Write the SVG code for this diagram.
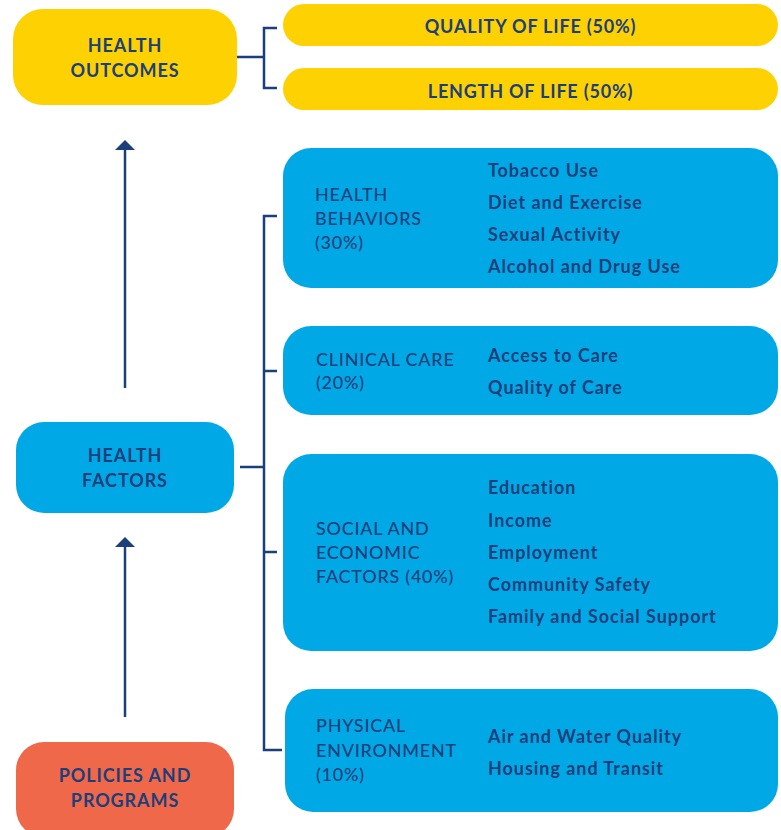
<svg xmlns="http://www.w3.org/2000/svg" width="781" height="830" viewBox="0 0 781 830">
<defs>
<style>
.y{fill:#FED103}
.b{fill:#00A9E6}
.o{fill:#F0684A}
text{fill:#1B3F7B;font-family:Lato,"Liberation Sans",sans-serif}
.h{font-size:18px;font-weight:700;text-anchor:middle;letter-spacing:0.9px}
.p{font-size:18px;font-weight:700;text-anchor:middle;letter-spacing:0.8px}
.c{font-size:18px;font-weight:500;letter-spacing:0.75px}
.i{font-size:18px;font-weight:700;letter-spacing:0.95px}
.ln{fill:none;stroke:#1B3F7B;stroke-width:2.5}
</style>
</defs>
<rect width="781" height="830" fill="#fff"/>
<g id="connectors">
<path class="ln" d="M237,57 H264 M277,28 H264 V88 H277"/>
<path class="ln" d="M240,467 H264 M277,216 H264 V750 H282 M264,371 H277 M264,552 H277"/>
<path d="M125,388 V150" class="ln"/>
<path d="M115,150 L125,140 L135,150 Z" fill="#1B3F7B"/>
<path d="M125,717 V547" class="ln"/>
<path d="M115,547 L125,537 L135,547 Z" fill="#1B3F7B"/>
</g>
<g id="health-outcomes">
<rect class="y" x="13" y="9" width="224" height="96" rx="30"/>
<text class="h" x="125" y="52">HEALTH</text>
<text class="h" x="125" y="77">OUTCOMES</text>
</g>
<g id="quality-of-life">
<rect class="y" x="283" y="4" width="495" height="42" rx="21"/>
<text class="p" x="530.5" y="33">QUALITY OF LIFE (50%)</text>
</g>
<g id="length-of-life">
<rect class="y" x="283" y="68" width="495" height="42" rx="21"/>
<text class="p" x="530.5" y="98">LENGTH OF LIFE (50%)</text>
</g>
<g id="health-factors">
<rect class="b" x="16" y="422" width="218" height="91" rx="28"/>
<text class="h" x="125" y="462">HEALTH</text>
<text class="h" x="125" y="487">FACTORS</text>
</g>
<g id="policies-and-programs">
<rect class="o" x="16" y="742" width="218" height="95" rx="28"/>
<text class="h" x="125" y="782">POLICIES AND</text>
<text class="h" x="125" y="807">PROGRAMS</text>
</g>
<g id="health-behaviors">
<rect class="b" x="283" y="148" width="495" height="140" rx="28"/>
<text class="c" x="315" y="201">HEALTH</text>
<text class="c" x="315" y="225">BEHAVIORS</text>
<text class="c" x="315" y="249">(30%)</text>
<text class="i" x="488" y="177">Tobacco Use</text>
<text class="i" x="488" y="209">Diet and Exercise</text>
<text class="i" x="488" y="241">Sexual Activity</text>
<text class="i" x="488" y="273">Alcohol and Drug Use</text>
</g>
<g id="clinical-care">
<rect class="b" x="283" y="326" width="495" height="89" rx="28"/>
<text class="c" x="316" y="366">CLINICAL CARE</text>
<text class="c" x="316" y="389">(20%)</text>
<text class="i" x="488" y="362">Access to Care</text>
<text class="i" x="488" y="394">Quality of Care</text>
</g>
<g id="social-economic">
<rect class="b" x="283" y="454" width="495" height="197" rx="28"/>
<text class="c" x="316" y="535">SOCIAL AND</text>
<text class="c" x="316" y="559">ECONOMIC</text>
<text class="c" x="316" y="583">FACTORS (40%)</text>
<text class="i" x="488" y="494">Education</text>
<text class="i" x="488" y="527">Income</text>
<text class="i" x="488" y="559">Employment</text>
<text class="i" x="488" y="591">Community Safety</text>
<text class="i" x="488" y="623">Family and Social Support</text>
</g>
<g id="physical-environment">
<rect class="b" x="285" y="689" width="493" height="123" rx="28"/>
<text class="c" x="316" y="732">PHYSICAL</text>
<text class="c" x="316" y="757">ENVIRONMENT</text>
<text class="c" x="316" y="781">(10%)</text>
<text class="i" x="488" y="743">Air and Water Quality</text>
<text class="i" x="488" y="775">Housing and Transit</text>
</g>
</svg>
